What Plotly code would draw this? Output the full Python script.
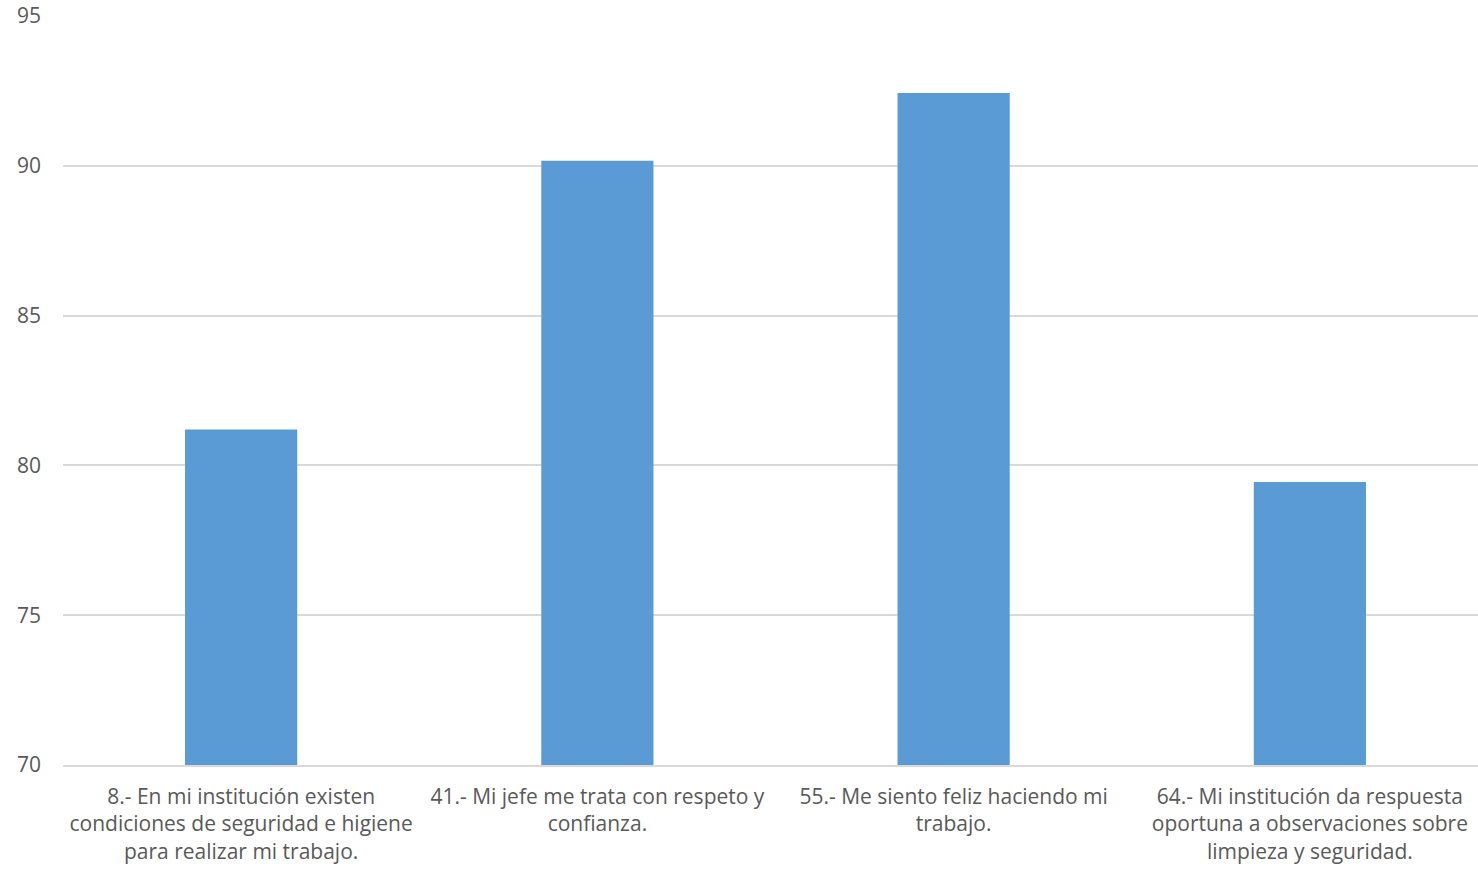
import plotly.graph_objects as go

categories = [
    "8.- En mi institución existen<br>condiciones de seguridad e higiene<br>para realizar mi trabajo.",
    "41.- Mi jefe me trata con respeto y<br>confianza.",
    "55.- Me siento feliz haciendo mi<br>trabajo.",
    "64.- Mi institución da respuesta<br>oportuna a observaciones sobre<br>limpieza y seguridad.",
]
values = [81.2, 90.17, 92.43, 79.45]
y_ticks = [70, 75, 80, 85, 90, 95]

fig = go.Figure(go.Bar(x=categories, y=values, marker_color="#5b9bd5", marker_line_width=0))

fig.update_layout(
    width=1488, height=869,
    margin=dict(l=63, r=0, t=16, b=104, autoexpand=False),
    paper_bgcolor="white", plot_bgcolor="white",
    bargap=0.685,
    showlegend=False,
    font=dict(family="Open Sans", size=21, color="#595959"),
)
fig.update_xaxes(showline=True, linecolor="#d9d9d9", linewidth=1.5, ticks="", showgrid=False,
                 tickfont=dict(size=21, color="#595959"), ticklabelstandoff=12, automargin=False)
fig.update_yaxes(range=[70, 95], tickvals=y_ticks, showgrid=True, gridcolor="#d9d9d9", gridwidth=1.5,
                 zeroline=False, showline=False, tickfont=dict(size=21, color="#595959"),
                 ticklabelstandoff=21, automargin=False)

fig.write_html("out.html", config={"displayModeBar": False},
               post_script="document.body.style.margin='0';document.body.style.padding='0';"
                           "document.body.style.overflow='hidden';"
                           "document.documentElement.style.overflow='hidden';")
